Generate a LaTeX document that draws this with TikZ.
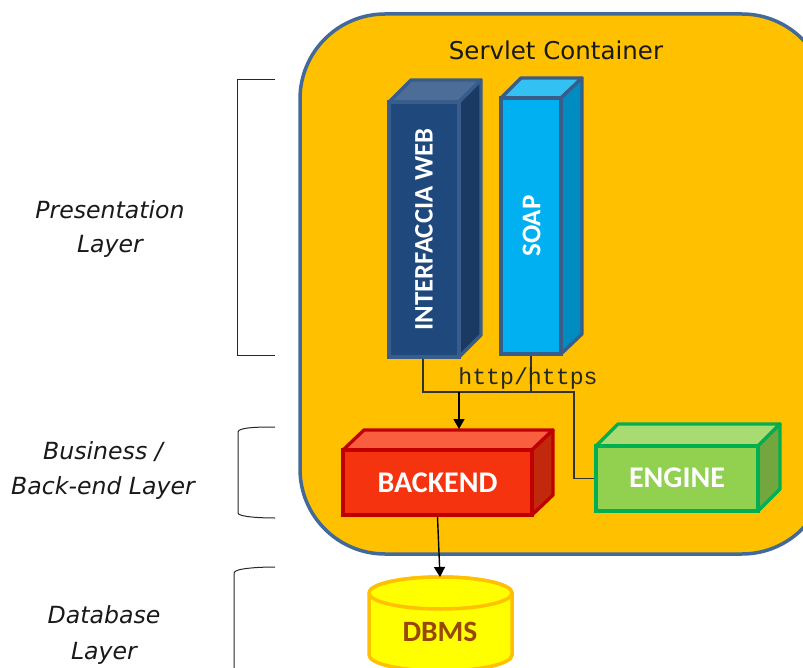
\documentclass[tikz,border=0pt]{standalone}
\usepackage{graphicx}
\usepackage{fontspec}
\setmainfont{DejaVu Sans}
\newfontfamily\boxfont{Carlito}
\newfontfamily\urlfont{Liberation Mono}
\usetikzlibrary{arrows.meta}
\definecolor{contfill}{HTML}{FFC000}
\definecolor{contline}{HTML}{41699A}
\definecolor{webfront}{HTML}{1F497D}
\definecolor{webtop}{HTML}{4C6D97}
\definecolor{webside}{HTML}{1A3A64}
\definecolor{webline}{HTML}{385D8A}
\definecolor{soapfront}{HTML}{00B0F0}
\definecolor{soaptop}{HTML}{33C0F3}
\definecolor{soapside}{HTML}{008CC0}
\definecolor{backfront}{HTML}{F5330F}
\definecolor{backtop}{HTML}{F95F3F}
\definecolor{backside}{HTML}{C2280C}
\definecolor{backline}{HTML}{C00000}
\definecolor{engfront}{HTML}{92D050}
\definecolor{engtop}{HTML}{A8DC73}
\definecolor{engside}{HTML}{74A640}
\definecolor{engline}{HTML}{00B050}
\definecolor{dbtext}{HTML}{984806}
\definecolor{dbfill}{HTML}{FFFF00}
\tikzset{
  layerlabel/.style={font=\fontsize{23.6}{23.6}\selectfont\itshape, text=black!90, inner sep=0pt},
  frontface/.style={draw, line width=3.3pt, inner sep=0pt, text=white, font=\boxfont\bfseries\fontsize{30}{30}\selectfont},
  facepath/.style={draw, line width=3.3pt, line join=round},
  brace/.style={draw=black!85, line width=1pt},
  conn/.style={draw=black!80, line width=1.4pt},
  connarrow/.style={conn, draw=black, -{Triangle[length=10pt,width=11pt]}},
}
\begin{document}
\begin{tikzpicture}[x=1pt,y=-1pt]
\useasboundingbox (0,0) rectangle (803,668);
\clip (0,0) rectangle (803,668);
% container
\node[draw=contline, fill=contfill, line width=3.5pt, rounded corners=85pt, minimum width=527pt, minimum height=540pt, inner sep=0pt] (container) at (563.5,284) {};
\node[font=\fontsize{24.5}{24.5}\selectfont, inner sep=0pt, text=black!90] (containertitle) at (556,50) {Servlet Container};
% brackets
\coordinate (b1a) at (275,80); \coordinate (b1b) at (275,355);
\draw[brace] (b1a) -- (237.5,80) -- (237.5,355) -- (b1b);
\coordinate (b2a) at (275,427); \coordinate (b2b) at (275,518);
\draw[brace] (b2a) .. controls (262,427) and (238,427) .. (238,432) -- (238,513) .. controls (238,517) and (262,518) .. (b2b);
\coordinate (b3a) at (275,567); \coordinate (b3b) at (234,668);
\draw[brace] (b3a) .. controls (262,567) and (234,568) .. (234,573) -- (b3b);
% layer labels
\node[layerlabel] (l1a) at (110,210) {Presentation};
\node[layerlabel] (l1b) at (110,246) {Layer};
\node[layerlabel] (l2a) at (103,452) {Business /};
\node[layerlabel] (l2b) at (103,488) {Back-end Layer};
\node[layerlabel] (l3a) at (104,615) {Database};
\node[layerlabel] (l3b) at (104,653) {Layer};
% interfaccia web
\path[facepath, draw=webline, fill=webtop] (389,102) -- (411,80) -- (481,80) -- (459,102) -- cycle;
\path[facepath, draw=webline, fill=webside] (459,102) -- (481,80) -- (481,335) -- (459,357) -- cycle;
\node[frontface, draw=webline, fill=webfront, minimum width=70pt, minimum height=255pt, font=\boxfont\bfseries\fontsize{26.7}{26.7}\selectfont] (web) at (424,229.5) {\rotatebox{90}{INTERFACCIA WEB}};
% soap
\path[facepath, draw=webline, fill=soaptop] (501,98) -- (521,78) -- (582,78) -- (561,98) -- cycle;
\path[facepath, draw=webline, fill=soapside] (561,98) -- (582,78) -- (582,334) -- (561,354) -- cycle;
\node[frontface, draw=webline, fill=soapfront, minimum width=60pt, minimum height=256pt, font=\boxfont\bfseries\fontsize{27}{27}\selectfont] (soap) at (531,226) {\hspace{1pt}\rotatebox{90}{SOAP}};
% backend
\path[facepath, draw=backline, fill=backtop] (343,450) -- (364,430) -- (553,430) -- (532,450) -- cycle;
\path[facepath, draw=backline, fill=backside] (532,450) -- (553,430) -- (553,495) -- (532,515) -- cycle;
\node[frontface, draw=backline, fill=backfront, minimum width=189pt, minimum height=65pt] (backend) at (437.5,482.5) {BACKEND};
% engine
\path[facepath, draw=engline, fill=engtop] (596,446) -- (618,424) -- (780,424) -- (758,446) -- cycle;
\path[facepath, draw=engline, fill=engside] (758,446) -- (780,424) -- (780,489) -- (758,511) -- cycle;
\node[frontface, draw=engline, fill=engfront, minimum width=162pt, minimum height=65pt] (engine) at (677,478.5) {\raisebox{1pt}{ENGINE}};
% dbms
\path[draw=contfill, fill=dbfill, line width=3.5pt] (369,593) -- (369,655) arc[start angle=180, end angle=360, x radius=71.5pt, y radius=16pt] -- (512,593) arc[start angle=0, end angle=180, x radius=71.5pt, y radius=16pt] -- cycle;
\path[draw=contfill, fill=dbfill, line width=3.5pt] (369,593) arc[start angle=180, end angle=540, x radius=71.5pt, y radius=16pt];
\node[inner sep=0pt, text=dbtext, font=\boxfont\bfseries\fontsize{29.5}{29.5}\selectfont] (dbms) at (440,632) {DBMS};
\coordinate (dbtop) at (440,577);
% connectors
\coordinate (j1) at (459,392);
\draw[conn] (web.south) ++(-1,0) |- (j1);
\draw[conn] (soap.south) -- (531,392) -- (j1);
\draw[conn] (531,392) -- (574,392) |- (engine.west);
\draw[connarrow] (j1) -- (459,429);
\draw[connarrow] (backend.south) -- (dbtop);
\node[inner sep=0pt, text=black!85, font=\urlfont\fontsize{23.2}{23.2}\selectfont] (http) at (528,378.5) {http/https};
\end{tikzpicture}
\end{document}
